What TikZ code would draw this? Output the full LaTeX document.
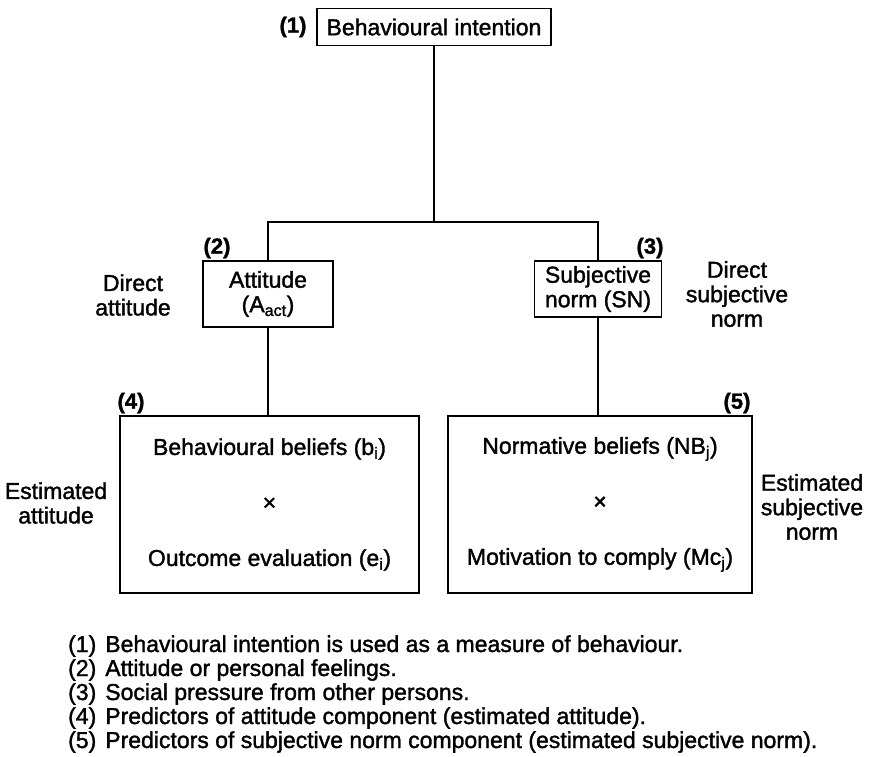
\documentclass[tikz,border=0pt]{standalone}
\usepackage{fontspec}
\setmainfont{Liberation Sans}[FakeBold=1.5]
\begin{document}
\begin{tikzpicture}[x=1pt,y=-1pt,
  every node/.style={font=\fontsize{23}{24.5}\selectfont, inner sep=0pt},
  boxed/.style={draw, line width=1.7pt, align=center},
  lbl/.style={align=center},
  num/.style={font=\fontsize{22}{24}\selectfont\bfseries},
  link/.style={line width=1.7pt}
]
\useasboundingbox (0,0) rectangle (870,757);
% boxes
\node[boxed, minimum width=234, minimum height=37] (bi) at (434,27) {Behavioural intention};
\node[boxed, minimum width=130, minimum height=66] (att) at (268,294) {Attitude\\(A\textsubscript{act})};
\node[boxed, minimum width=127, minimum height=56] (sn) at (598,289) {Subjective\\norm (SN)};
\node[boxed, minimum width=299, minimum height=177] (b4) at (269.5,504.5)
  {Behavioural beliefs (b\textsubscript{i})\\[31pt]×\\[31pt]Outcome evaluation (e\textsubscript{i})};
\node[boxed, minimum width=304, minimum height=177] (b5) at (600,504.5)
  {Normative beliefs (NB\textsubscript{j})\\[31pt]×\\[31pt]Motivation to comply (Mc\textsubscript{j})};
% numbers
\node[num] (n1) at (293,27) {(1)};
\node[num] (n2) at (217,248) {(2)};
\node[num] (n3) at (650,248) {(3)};
\node[num] (n4) at (131,403) {(4)};
\node[num] (n5) at (737,403) {(5)};
% side labels
\node[lbl] (da) at (133,295) {Direct\\attitude};
\node[lbl] (dsn) at (737,294) {Direct\\subjective\\norm};
\node[lbl] (ea) at (56,503) {Estimated\\attitude};
\node[lbl] (esn) at (812,507) {Estimated\\subjective\\norm};
% connectors
\coordinate (j) at (434,222);
\draw[link] (bi.south) -- (j);
\draw[link] (att.north) -- (att.north |- j) -- (sn.north |- j) -- (sn.north);
\draw[link] (att.south) -- (att.south |- b4.north);
\draw[link] (sn.south) -- (sn.south |- b5.north);
% notes
\node[anchor=base west] (t1) at (68,652) {(1)\hspace{9pt}Behavioural intention is used as a measure of behaviour.};
\node[anchor=base west] (t2) at (68,676) {(2)\hspace{9pt}Attitude or personal feelings.};
\node[anchor=base west] (t3) at (68,700) {(3)\hspace{9pt}Social pressure from other persons.};
\node[anchor=base west] (t4) at (68,724) {(4)\hspace{9pt}Predictors of attitude component (estimated attitude).};
\node[anchor=base west] (t5) at (68,748) {(5)\hspace{9pt}Predictors of subjective norm component (estimated subjective norm).};
\end{tikzpicture}
\end{document}
